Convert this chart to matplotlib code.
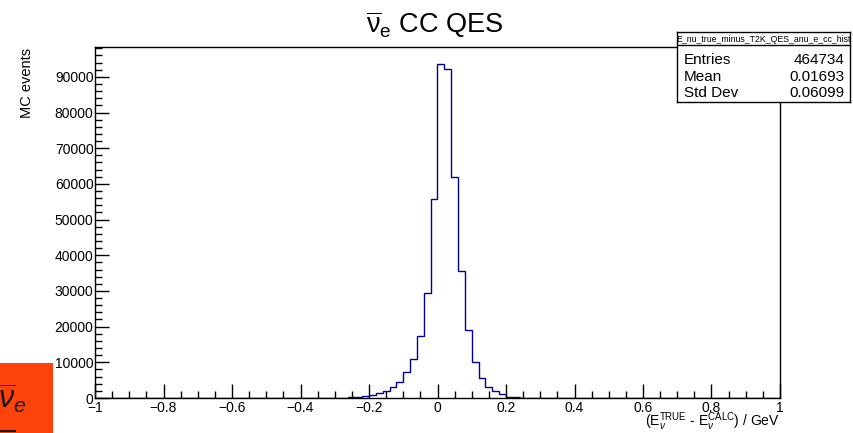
import numpy as np
import matplotlib
matplotlib.use("Agg")
import matplotlib.pyplot as plt
from matplotlib.ticker import MultipleLocator, FuncFormatter
from matplotlib.patches import Rectangle

plt.rcParams['font.family'] = ['Liberation Sans', 'DejaVu Sans']
plt.rcParams['mathtext.fontset'] = 'custom'
plt.rcParams['mathtext.rm'] = 'Liberation Sans'
plt.rcParams['mathtext.it'] = 'Liberation Sans:italic'

# histogram: 100 bins from -1 to 1, only the filled ones listed (lower edge -> counts)
bin_lo = [-0.28, -0.26, -0.24, -0.22, -0.20, -0.18, -0.16, -0.14, -0.12, -0.10,
          -0.08, -0.06, -0.04, -0.02, 0.00, 0.02, 0.04, 0.06, 0.08, 0.10,
          0.12, 0.14, 0.16, 0.18, 0.20, 0.22, 0.24]
counts = [50, 150, 350, 600, 900, 1400, 2000, 3000, 4600, 7200,
          11050, 17380, 29350, 55790, 93470, 92150, 62070, 35520, 18980, 10090,
          5610, 3080, 1880, 1040, 420, 160, 100]

hist_name = "E_nu_true_minus_T2K_QES_anu_e_cc_hist"
stat_names = ["Entries", "Mean", "Std Dev"]
stat_values = ["464734", "0.01693", "0.06099"]

edges = np.linspace(-1, 1, 101)
values = np.zeros(100)
idx = np.round((np.array(bin_lo) + 1) / 0.02).astype(int)
values[idx] = counts

W, H = 854, 433
fig = plt.figure(figsize=(W / 100, H / 100), dpi=100)
ax = fig.add_axes([95 / W, 1 - 398 / H, 685 / W, (398 - 46.5) / H])

ax.stairs(values, edges, color='#000099', lw=1.0)
ax.set_xlim(-1, 1)
ax.set_ylim(0, 98500)

ax.xaxis.set_major_locator(MultipleLocator(0.2))
ax.xaxis.set_minor_locator(MultipleLocator(0.05))
ax.yaxis.set_major_locator(MultipleLocator(10000))
ax.yaxis.set_minor_locator(MultipleLocator(2000))
ax.xaxis.set_major_formatter(FuncFormatter(lambda v, p: ('%g' % round(v, 3)).replace('-', '\u2212')))
ax.yaxis.set_major_formatter(FuncFormatter(lambda v, p: '%d' % v))
ax.tick_params(which='both', direction='in', top=False, right=False, labelsize=10, colors='black')
ax.tick_params(which='major', length=10, width=1)
ax.tick_params(which='minor', length=5, width=1)
ax.tick_params(axis='x', pad=2)
ax.tick_params(axis='y', pad=1)
for s in ax.spines.values():
    s.set_linewidth(1)

fig.text(435 / W, 1 - 33 / H, r'$\overline{\mathrm{\nu}}_{\rm e}$ CC QES', ha='center', va='baseline', fontsize=19.5)
fig.text(27 / W, 1 - 48 / H, 'MC events', rotation=90, ha='center', va='top', fontsize=10.5)
fig.text(780 / W, 1 - 426 / H, r'(E$_{\nu}^{\rm TRUE}$ - E$_{\nu}^{\rm CALC}$) / GeV',
         ha='right', va='baseline', fontsize=10)

# stats box
sx0, sx1, sy0, sy1 = 677, 850, 32, 102
sbox = fig.add_axes([sx0 / W, 1 - sy1 / H, (sx1 - sx0) / W, (sy1 - sy0) / H])
sbox.set_xticks([])
sbox.set_yticks([])
sbox.set_xlim(0, sx1 - sx0)
sbox.set_ylim(sy1, sy0)
for s in sbox.spines.values():
    s.set_linewidth(1)
sbox.axhline(45, color='black', lw=1)
sbox.text((sx1 - sx0) / 2, 39, hist_name, ha='center', va='center', fontsize=6.3)
for i, (n, v) in enumerate(zip(stat_names, stat_values)):
    y = 60 + i * 16.5
    sbox.text(7, y, n, ha='left', va='center', fontsize=11)
    sbox.text(sx1 - sx0 - 5, y, v, ha='right', va='center', fontsize=11)

# orange badge in the corner
fig.patches.append(Rectangle((0, 0), 53 / W, 70 / H, transform=fig.transFigure,
                             facecolor='#fd4309', edgecolor='none'))
fig.text(-2 / W, 1 - 398 / H, r'$\overline{\nu}_e$', ha='left', va='center', fontsize=22, color='#1a1a1a')
fig.add_artist(plt.Line2D([0, 15 / W], [1 - 431 / H] * 2, transform=fig.transFigure, color='#1a1a1a', lw=1.5))

fig.savefig('out.png', dpi=100)
